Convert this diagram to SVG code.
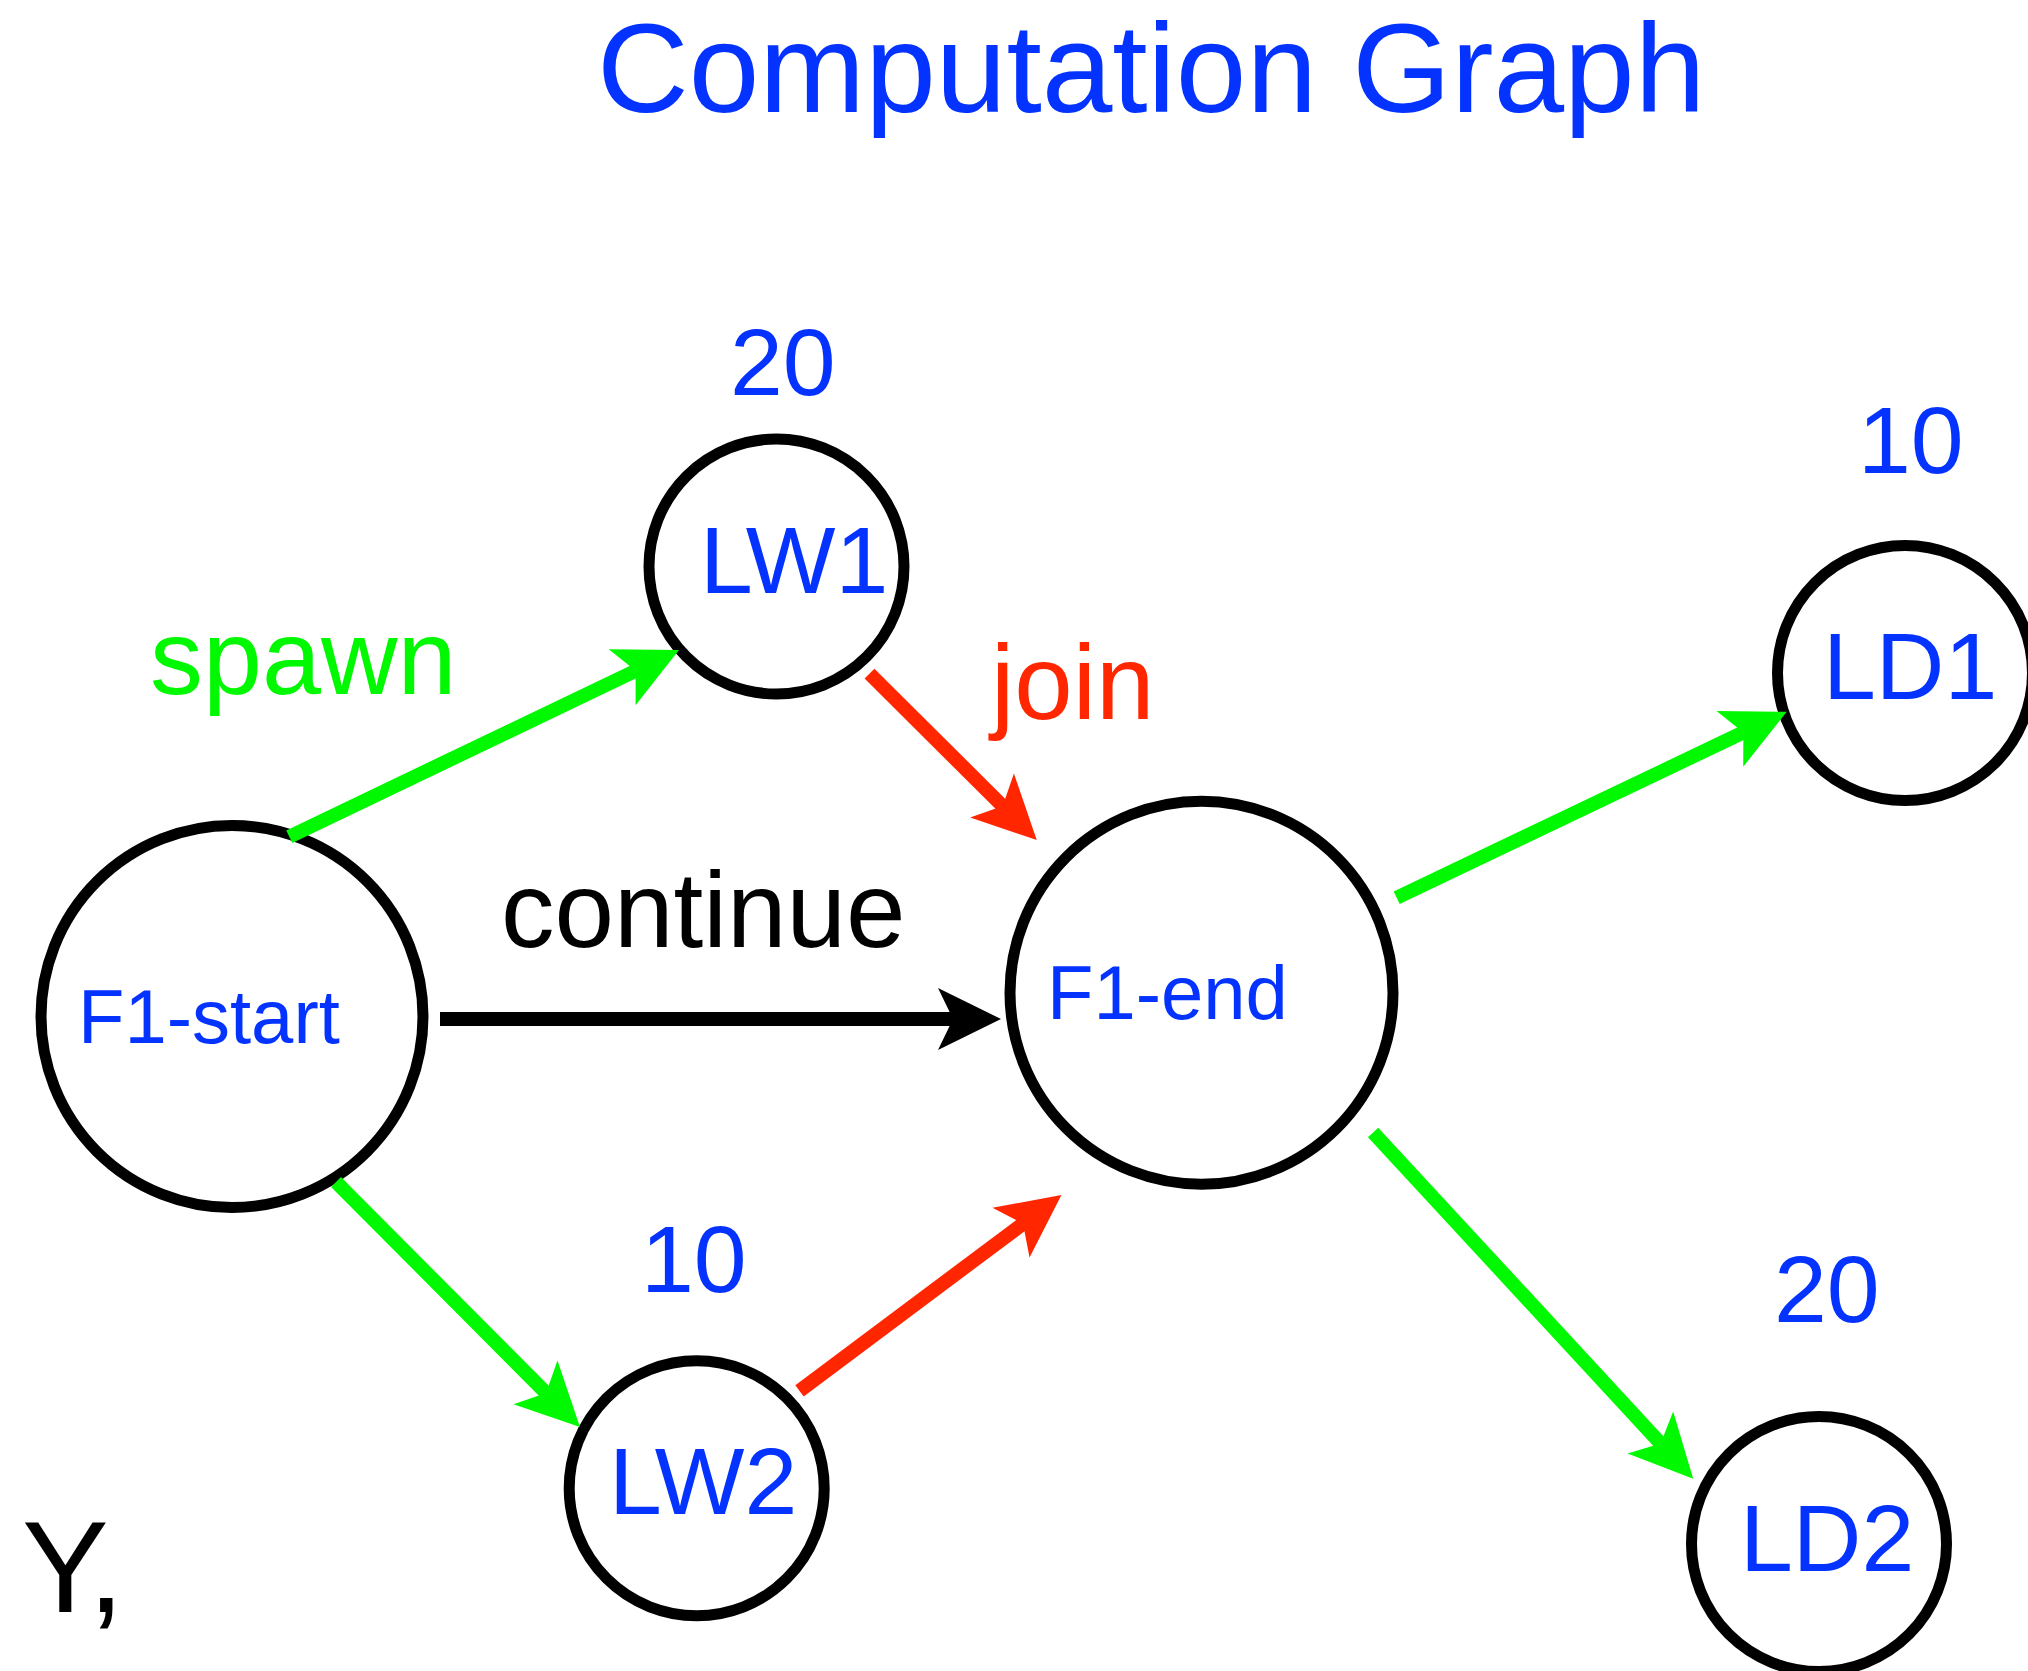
<svg xmlns="http://www.w3.org/2000/svg" width="2028" height="1671" viewBox="0 0 2028 1671">
  <style>
    .node { fill: #FFFFFF; stroke: #000000; stroke-width: 11; }
    .lbl { font-family: "Liberation Sans", Arial, Helvetica, sans-serif; fill: #0433FF; }
    .edge { fill: none; stroke-width: 14; stroke-linecap: butt; }
    .green { stroke: #00F900; }
    .red { stroke: #FF2600; }
    .black { stroke: #000000; }
    .elabel { font-family: "Liberation Sans", Arial, Helvetica, sans-serif; }
  </style>
  <defs>
    <!-- notched arrowheads; origin sits at the notch, tip 48 units ahead -->
    <marker id="head-green" markerUnits="userSpaceOnUse" orient="auto" refX="0" refY="0" markerWidth="1" markerHeight="1" overflow="visible">
      <path d="M-15,-31 L48,0 L-15,31 L0,0 Z" fill="#00F900"/>
    </marker>
    <marker id="head-red" markerUnits="userSpaceOnUse" orient="auto" refX="0" refY="0" markerWidth="1" markerHeight="1" overflow="visible">
      <path d="M-15,-31 L48,0 L-15,31 L0,0 Z" fill="#FF2600"/>
    </marker>
    <marker id="head-black" markerUnits="userSpaceOnUse" orient="auto" refX="0" refY="0" markerWidth="1" markerHeight="1" overflow="visible">
      <path d="M-15,-31 L48,0 L-15,31 L0,0 Z" fill="#000000"/>
    </marker>
  </defs>

  <rect width="2028" height="1671" fill="#FFFFFF"/>

  <text class="lbl" x="597" y="112" font-size="127">Computation Graph</text>

  <!-- nodes -->
  <g id="node-f1-start">
    <circle class="node" cx="232" cy="1016.5" r="191"/>
    <text class="lbl" x="78" y="1043" font-size="76">F1-start</text>
  </g>
  <g id="node-lw1">
    <circle class="node" cx="776.5" cy="566.5" r="127.5"/>
    <text class="lbl" x="700" y="593" font-size="95">LW1</text>
    <text class="lbl" x="730" y="394.5" font-size="95">20</text>
  </g>
  <g id="node-lw2">
    <circle class="node" cx="696.7" cy="1488.3" r="127.5"/>
    <text class="lbl" x="609" y="1514" font-size="95">LW2</text>
    <text class="lbl" x="641" y="1292" font-size="95">10</text>
  </g>
  <g id="node-f1-end">
    <circle class="node" cx="1201.5" cy="992.7" r="191.5"/>
    <text class="lbl" x="1047" y="1019" font-size="76">F1-end</text>
  </g>
  <g id="node-ld1">
    <circle class="node" cx="1905" cy="673" r="127.5"/>
    <text class="lbl" x="1823" y="699" font-size="95">LD1</text>
    <text class="lbl" x="1858" y="473" font-size="95">10</text>
  </g>
  <g id="node-ld2">
    <circle class="node" cx="1819" cy="1544" r="127.5"/>
    <text class="lbl" x="1740" y="1570.5" font-size="95">LD2</text>
    <text class="lbl" x="1774" y="1322" font-size="95">20</text>
  </g>

  <!-- connectors -->
  <g id="connectors">
    <line class="edge green" x1="289.3" y1="836.7" x2="635.7" y2="670.7" marker-end="url(#head-green)"/>
    <line class="edge black" x1="440" y1="1019" x2="953" y2="1019" marker-end="url(#head-black)"/>
    <line class="edge green" x1="336" y1="1182" x2="546.1" y2="1393" marker-end="url(#head-green)"/>
    <line class="edge red" x1="869.5" y1="673.6" x2="1002.7" y2="806.1" marker-end="url(#head-red)"/>
    <line class="edge red" x1="799.5" y1="1390.8" x2="1023" y2="1223.7" marker-end="url(#head-red)"/>
    <line class="edge green" x1="1396.7" y1="897.8" x2="1743.4" y2="732.4" marker-end="url(#head-green)"/>
    <line class="edge green" x1="1373.1" y1="1132.4" x2="1660.6" y2="1443.5" marker-end="url(#head-green)"/>

    <text class="elabel" x="150" y="694" font-size="106" fill="#00F900">spawn</text>
    <text class="elabel" x="501" y="947" font-size="107" fill="#000000">continue</text>
    <text class="elabel" x="991" y="719" font-size="105" fill="#FF2600">join</text>
  </g>

  <text class="elabel" x="22" y="1612" font-size="130" fill="#000000">Y<tspan dx="-4">,</tspan></text>
</svg>
